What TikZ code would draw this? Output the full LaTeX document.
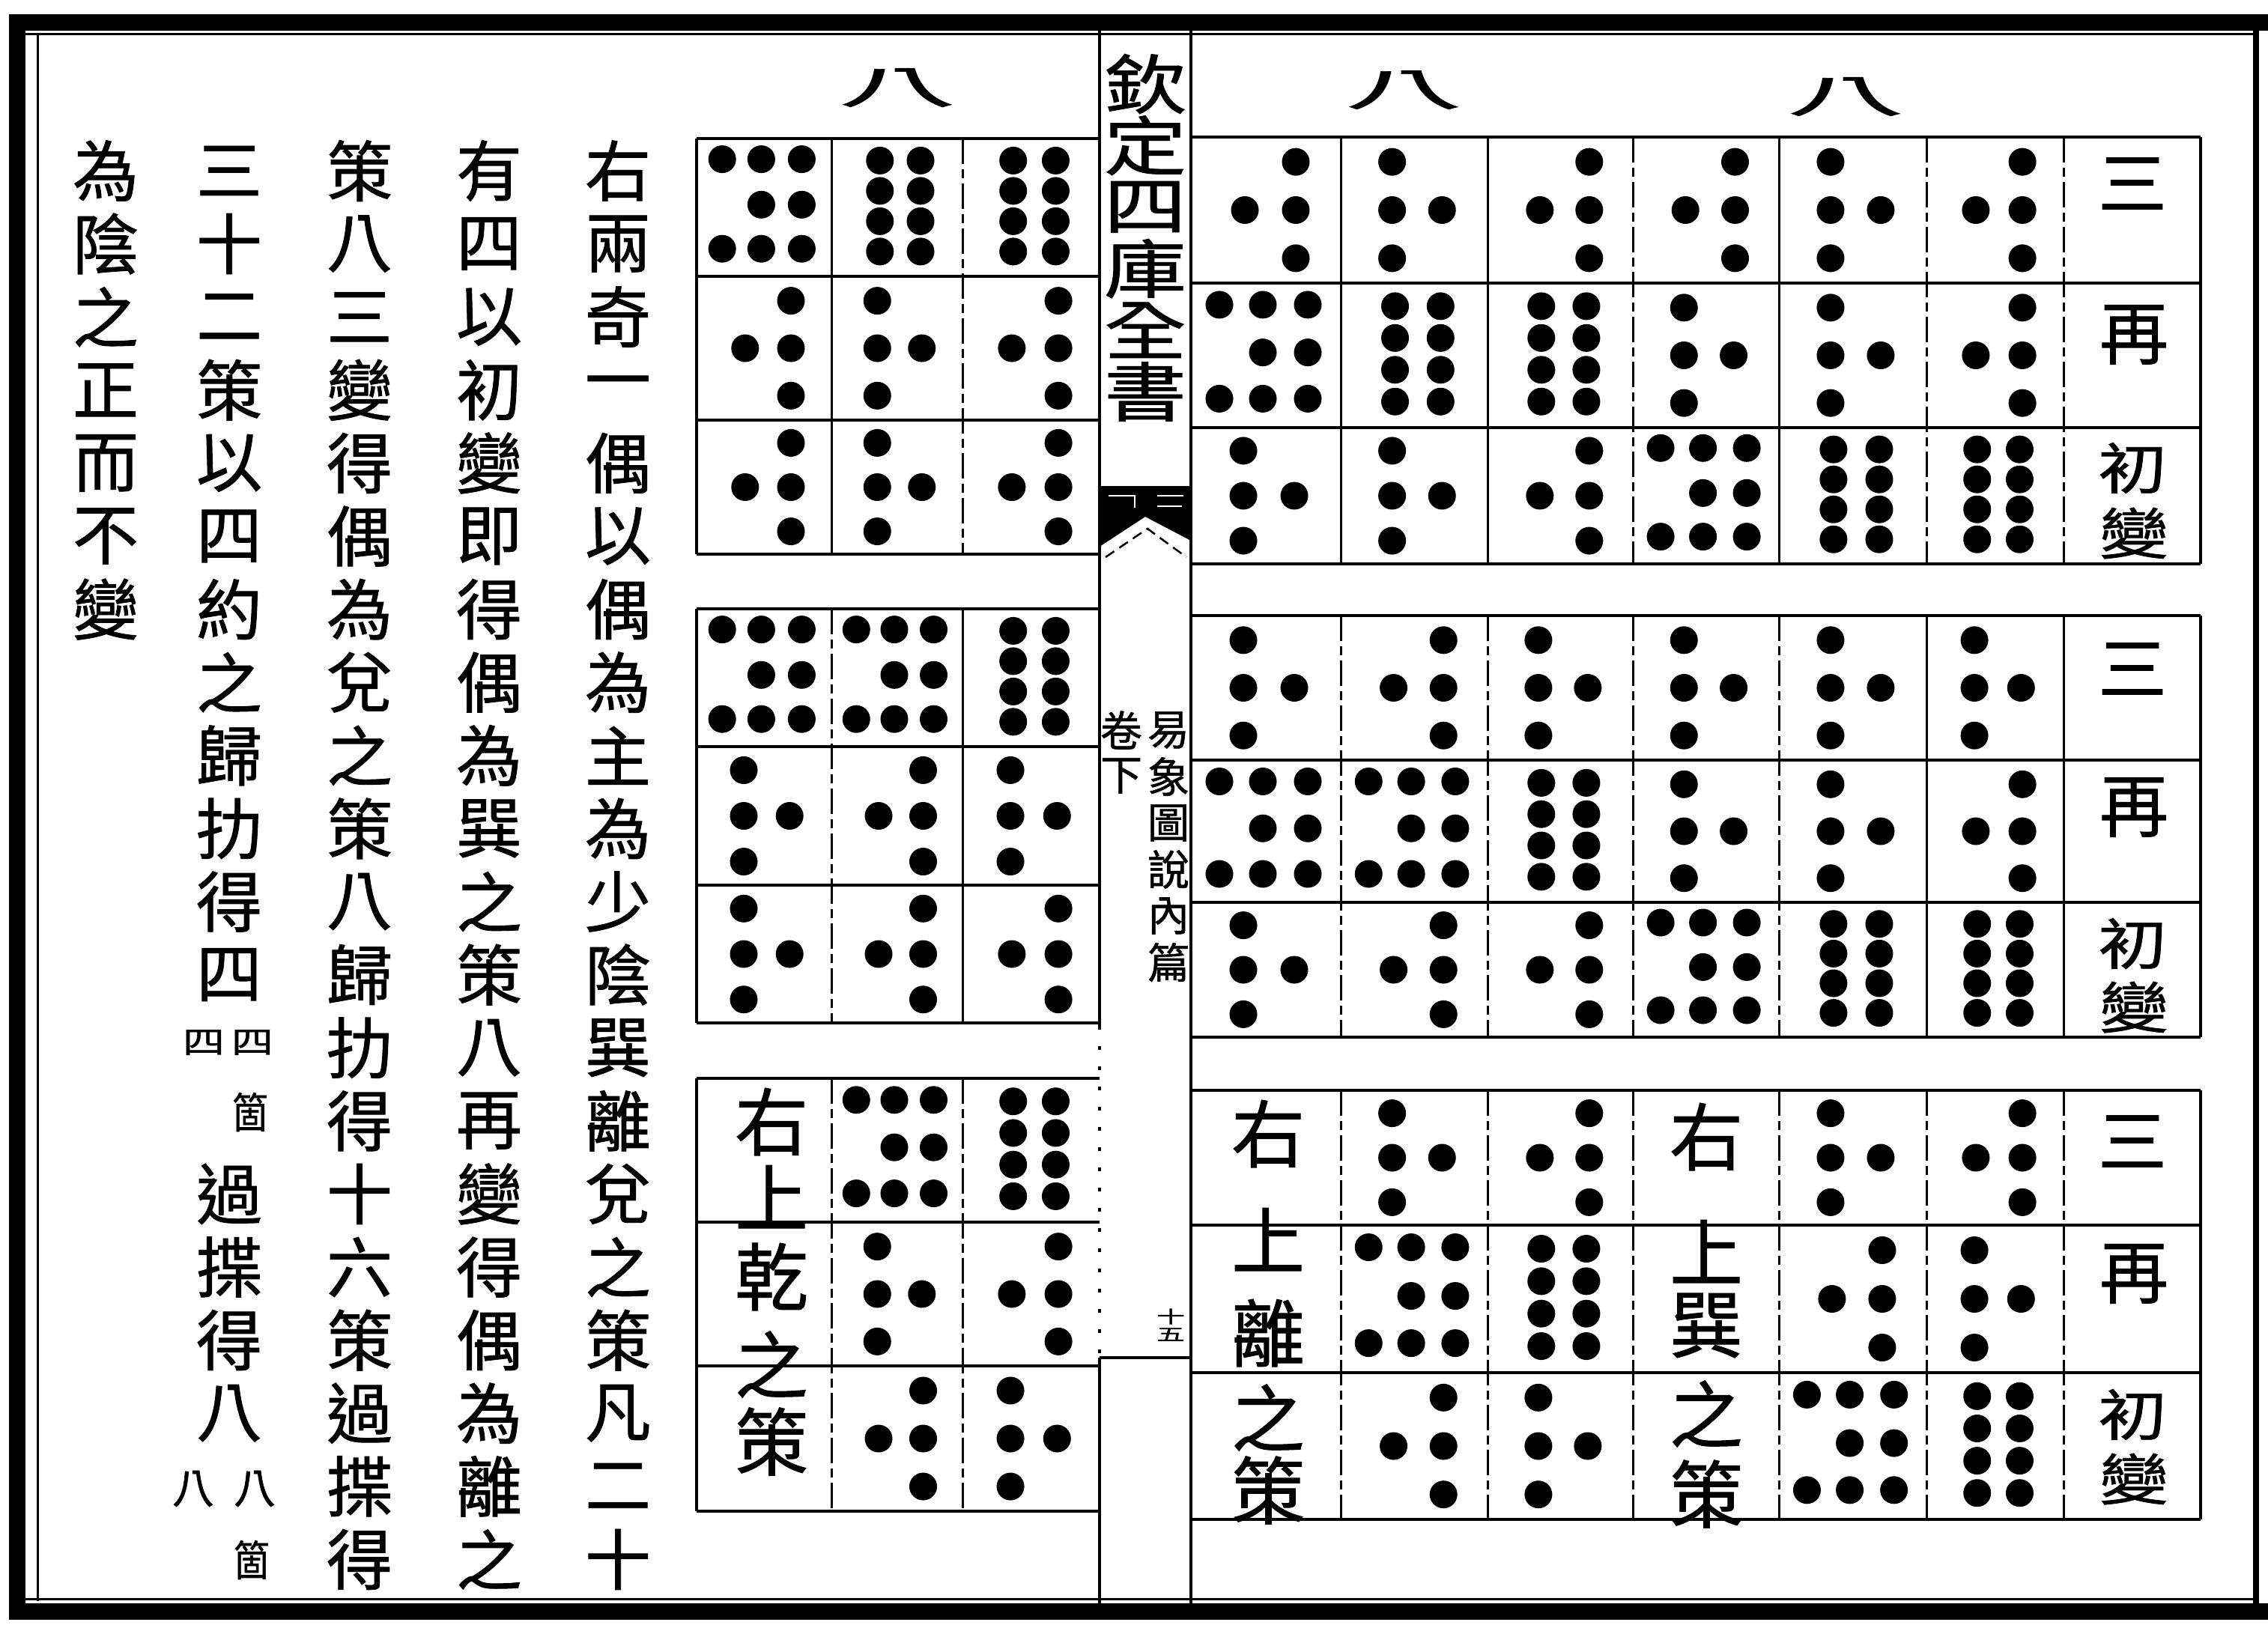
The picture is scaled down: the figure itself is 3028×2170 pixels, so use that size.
\documentclass[tikz,border=0pt]{standalone}
\usepackage{fontspec}
\newfontfamily\cjk[FakeBold=1]{Noto Sans CJK TC}
\newcommand\dotat[2]{\fill[bead] (#1,#2) circle[radius=18.5pt];}
\newcommand\pA{\dotat{0.70}{0.17}\dotat{0.70}{0.5}\dotat{0.70}{0.83}\dotat{0.36}{0.5}}
\newcommand\pB{\dotat{0.35}{0.17}\dotat{0.35}{0.5}\dotat{0.35}{0.83}\dotat{0.69}{0.5}}
\newcommand\pE{\dotat{0.19}{0.15}\dotat{0.48}{0.15}\dotat{0.78}{0.15}\dotat{0.48}{0.48}\dotat{0.78}{0.48}\dotat{0.19}{0.8}\dotat{0.48}{0.8}\dotat{0.78}{0.8}}
\newcommand\pF{\dotat{0.37}{0.16}\dotat{0.68}{0.16}\dotat{0.37}{0.38}\dotat{0.68}{0.38}\dotat{0.37}{0.6}\dotat{0.68}{0.6}\dotat{0.37}{0.82}\dotat{0.68}{0.82}}
\newcommand\cellp[5]{\begin{scope}[shift={(#1,#2)},x=#3pt,y=-#4pt]#5\end{scope}}
\newcommand\lrow[5]{\cellp{930}{#1}{180}{#2}{#3}\cellp{1110}{#1}{175}{#2}{#4}\cellp{1285}{#1}{183}{#2}{#5}}
\newcommand\rrow[8]{\cellp{1590}{#1}{200}{#2}{#3}\cellp{1790}{#1}{196}{#2}{#4}\cellp{1986}{#1}{194}{#2}{#5}\cellp{2180}{#1}{195}{#2}{#6}\cellp{2375}{#1}{197}{#2}{#7}\cellp{2572}{#1}{183}{#2}{#8}}
\newcommand\lgrid[4]{\foreach \yy in {#1,#2,#3,#4} {\draw[gridline] (930,\yy) -- (1468,\yy);}
  \draw[gridline] (930,#1) -- (930,#4);}
\newcommand\rgrid[4]{\foreach \yy in {#1,#2,#3,#4} {\draw[gridline] (1590,\yy) -- (2938,\yy);}
  \draw[gridline] (2938,#1) -- (2938,#4);}
\begin{document}
\begin{tikzpicture}[x=1pt,y=-1pt,
  bead/.style={fill=black},
  gridline/.style={line width=4.5pt},
  divsolid/.style={line width=3pt},
  divdash/.style={line width=3pt, dash pattern=on 34pt off 7pt on 12pt off 7pt},
  framethick/.style={line width=22pt},
  framethin/.style={line width=3pt},
  colline/.style={line width=4.5pt},
  body/.style={font=\cjk\fontsize{88}{90}\selectfont, inner sep=0pt},
  note/.style={font=\cjk\fontsize{56}{58}\selectfont, inner sep=0pt},
  big/.style={font=\cjk\fontsize{98}{100}\selectfont, inner sep=0pt},
  lab/.style={font=\cjk\fontsize{92}{94}\selectfont, inner sep=0pt},
  labc/.style={lab, yscale=0.8},
  bahead/.style={font=\cjk\fontsize{120}{120}\selectfont, xscale=1.3, yscale=0.5, inner sep=0pt},
  ttl/.style={font=\cjk\fontsize{110}{112}\selectfont, yscale=0.78, inner sep=0pt},
  sub/.style={font=\cjk\fontsize{56}{58}\selectfont, inner sep=0pt},
  pgno/.style={font=\cjk\fontsize{38}{40}\selectfont, yscale=0.6, inner sep=0pt}]
\useasboundingbox (0,0) rectangle (3028,2170);
\fill[white] (0,0) rectangle (3028,2170);
% page frame
\draw[framethick] (23,19) -- (23,2163);
\draw[framethick] (12,30) -- (3028,30);
\draw[framethick] (12,2152) -- (3028,2152);
\draw[line width=8pt] (3012,30) -- (3012,2152);
\draw[framethin] (50,44) -- (50,2138);
\draw[framethin] (34,46) -- (3008,46);
\draw[framethin] (34,2135) -- (3008,2135);
% centre column
\draw[colline] (1468,41) -- (1468,1370);
\draw[colline, dash pattern=on 5pt off 22pt] (1468,1370) -- (1468,1813);
\draw[colline] (1468,1813) -- (1468,2141);
\draw[colline] (1590,41) -- (1590,2141);
\draw[colline] (1468,1813) -- (1590,1813);
\foreach \ch [count=\i] in {欽,定,四,庫,全,書}
  \node[ttl] (t\i) at (1529,{112+(\i-1)*82.2}) {\ch};
\fill (1468,649) -- (1590,649) -- (1590,722) -- (1529,690) -- (1468,730) -- cycle;
\draw[white, line width=2.5pt] (1480,662) -- (1515,662) -- (1515,678) (1545,662) -- (1580,662) (1545,676) -- (1578,676);
\draw[line width=2.5pt, dash pattern=on 14pt off 8pt] (1476,744) -- (1532,706) -- (1584,744);
\foreach \ch [count=\i] in {易,象,圖,說,內,篇}
  \node[sub] (s\i) at (1560,{975+(\i-1)*62}) {\ch};
\node[sub] (v1) at (1497,975) {卷};
\node[sub] (v2) at (1497,1036) {下};
\node[pgno] (pg1) at (1563,1758) {十};
\node[pgno] (pg2) at (1563,1782) {五};
% left body text
\foreach \ch [count=\i] in {右,兩,奇,一,偶,以,偶,為,主,為,少,陰,巽,離,兌,之,策,凡,二,十}
  \node[body] (ca\i) at (825,{228+(\i-1)*97.6}) {\ch};
\foreach \ch [count=\i] in {有,四,以,初,變,即,得,偶,為,巽,之,策,八,再,變,得,偶,為,離,之}
  \node[body] (cb\i) at (653,{228+(\i-1)*97.6}) {\ch};
\foreach \ch [count=\i] in {策,八,三,變,得,偶,為,兌,之,策,八,歸,扐,得,十,六,策,過,揲,得}
  \node[body] (cc\i) at (480,{228+(\i-1)*97.6}) {\ch};
\foreach \ch [count=\i] in {三,十,二,策,以,四,約,之,歸,扐,得,四}
  \node[body] (cd\i) at (306,{228+(\i-1)*97.6}) {\ch};
\foreach \ch [count=\i] in {過,揲,得,八}
  \node[body] (ce\i) at (306,{228+(\i+13)*97.6}) {\ch};
\foreach \ch [count=\i] in {為,陰,之,正,而,不,變}
  \node[body] (cf\i) at (141,{228+(\i-1)*97.6}) {\ch};
\node[note, yscale=0.75] (n1) at (337,1392) {四};
\node[note, yscale=0.75] (n2) at (272,1392) {四};
\node[note, xscale=0.85] (n3) at (334,1485) {箇};
\node[note] (n4) at (340,1988) {八};
\node[note] (n5) at (258,1988) {八};
\node[note, xscale=0.85] (n6) at (336,2083) {箇};
% headings
\node[bahead] (h1) at (1198,117) {八};
\node[bahead] (h2) at (1874,120) {八};
\node[bahead] (h3) at (2464,129) {八};
% left grid
\lgrid{185}{369}{561}{740}
\draw[divsolid] (1110,185) -- (1110,740);
\draw[divdash] (1285,185) -- (1285,740);
\lgrid{813}{997}{1182}{1366}
\draw[divdash] (1110,813) -- (1110,1366);
\draw[divsolid] (1285,813) -- (1285,1366);
\lgrid{1440}{1632}{1824}{2018}
\draw[divdash] (1110,1440) -- (1110,2018);
\draw[divdash] (1285,1440) -- (1285,2018);
\lrow{185}{184}{\pE}{\pF}{\pF}
\lrow{369}{192}{\pA}{\pB}{\pA}
\lrow{561}{179}{\pA}{\pB}{\pA}
\lrow{813}{184}{\pE}{\pE}{\pF}
\lrow{997}{185}{\pB}{\pA}{\pB}
\lrow{1182}{184}{\pB}{\pA}{\pA}
\lrow{1440}{192}{}{\pE}{\pF}
\lrow{1632}{192}{}{\pB}{\pA}
\lrow{1824}{194}{}{\pA}{\pB}
\foreach \ch/\yy [count=\i] in {右/1498,上/1598,乾/1705,之/1822,策/1925}
  \node[big] (lq\i) at (1030,\yy) {\ch};
% right grid
\rgrid{183}{378}{571}{753}
\draw[divsolid] (1790,183) -- (1790,753);
\draw[divsolid] (1986,183) -- (1986,753);
\draw[divdash] (2180,183) -- (2180,753);
\draw[divsolid] (2375,183) -- (2375,753);
\draw[divdash] (2572,183) -- (2572,753);
\draw[divdash] (2755,183) -- (2755,753);
\rgrid{822}{1015}{1205}{1385}
\draw[divdash] (1790,822) -- (1790,1385);
\draw[divdash] (1986,822) -- (1986,1385);
\draw[divdash] (2180,822) -- (2180,1385);
\draw[divdash] (2375,822) -- (2375,1385);
\draw[divsolid] (2572,822) -- (2572,1385);
\draw[divsolid] (2755,822) -- (2755,1385);
\rgrid{1456}{1636}{1833}{2029}
\draw[divdash] (1790,1456) -- (1790,2029);
\draw[divdash] (1986,1456) -- (1986,2029);
\draw[divdash] (2180,1456) -- (2180,2029);
\draw[divdash] (2375,1456) -- (2375,2029);
\draw[divdash] (2572,1456) -- (2572,2029);
\draw[divdash] (2755,1456) -- (2755,2029);
\rrow{183}{195}{\pA}{\pB}{\pA}{\pA}{\pB}{\pA}
\rrow{378}{193}{\pE}{\pF}{\pF}{\pB}{\pB}{\pA}
\rrow{571}{182}{\pB}{\pB}{\pA}{\pE}{\pF}{\pF}
\rrow{822}{193}{\pB}{\pA}{\pB}{\pB}{\pB}{\pB}
\rrow{1015}{190}{\pE}{\pE}{\pF}{\pB}{\pB}{\pA}
\rrow{1205}{180}{\pB}{\pA}{\pA}{\pE}{\pF}{\pF}
\rrow{1456}{180}{}{\pB}{\pA}{}{\pB}{\pA}
\rrow{1636}{197}{}{\pE}{\pF}{}{\pA}{\pB}
\rrow{1833}{196}{}{\pA}{\pB}{}{\pE}{\pF}
\foreach \ch/\yy [count=\i] in {右/1514,上/1655,離/1780,之/1893,策/1990}
  \node[big] (rl\i) at (1693,\yy) {\ch};
\foreach \ch/\yy [count=\i] in {右/1518,上/1671,巽/1770,之/1888,策/1995}
  \node[big] (rx\i) at (2278,\yy) {\ch};
% labels
\node[lab] (a1) at (2847,245) {三};
\node[lab] (a2) at (2849,447) {再};
\node[labc] (a3) at (2847,625) {初};
\node[labc] (a4) at (2849,712) {變};
\node[lab] (b1) at (2847,893) {三};
\node[lab] (b2) at (2849,1078) {再};
\node[labc] (b3) at (2847,1260) {初};
\node[labc] (b4) at (2849,1345) {變};
\node[lab] (d1) at (2847,1524) {三};
\node[lab] (d2) at (2849,1701) {再};
\node[labc] (d3) at (2847,1889) {初};
\node[labc] (d4) at (2849,1975) {變};
\end{tikzpicture}
\end{document}
